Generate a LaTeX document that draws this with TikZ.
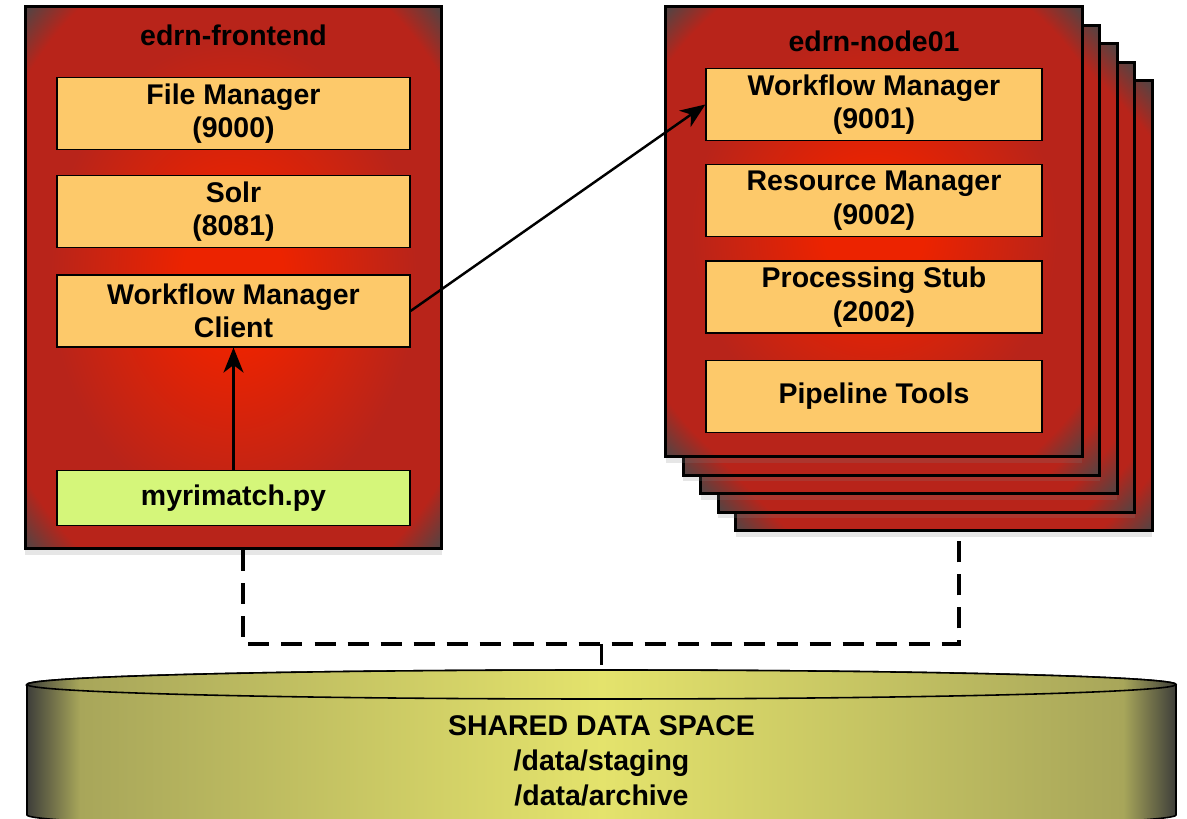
\documentclass[tikz,border=0pt]{standalone}
\usepackage{fontspec}
\setmainfont{Liberation Sans}
\usetikzlibrary{positioning, arrows.meta, shadows}

\definecolor{hotred}{HTML}{EC2300}
\definecolor{hostred}{HTML}{B8241A}
\definecolor{hostcorner}{HTML}{4C4646}
\definecolor{servfill}{HTML}{FDC96A}
\definecolor{scriptfill}{HTML}{D5F67A}
\definecolor{diskdark}{HTML}{3E3E3A}
\definecolor{diskolive}{HTML}{A8A65A}
\definecolor{disklight}{HTML}{E4E36C}

% glowing host boxes and the shared disk
\pgfdeclareradialshading{hostshade}{\pgfpoint{0bp}{0bp}}{color(0bp)=(hotred); color(6bp)=(hotred); color(22bp)=(hostred); color(31bp)=(hostred); color(35.4bp)=(hostcorner); color(50bp)=(hostcorner)}
\pgfdeclarehorizontalshading{diskshade}{100bp}{color(0bp)=(diskdark); color(25bp)=(diskdark); color(27.3bp)=(diskolive); color(50bp)=(disklight); color(72.7bp)=(diskolive); color(75bp)=(diskdark); color(100bp)=(diskdark)}

\tikzset{
  >={Stealth[length=5mm,width=4mm,inset=1.5mm]},
  host/.style={draw, line width=1.7pt, shade, shading=hostshade, minimum width=8.33cm,
    drop shadow={opacity=0.2, shadow xshift=0pt, shadow yshift=-0.12cm}},
  hosttitle/.style={font=\bfseries\fontsize{16.2}{19}\selectfont},
  service/.style={draw, line width=0.7pt, fill=servfill, minimum height=1.44cm,
    inner sep=2pt, align=center, font=\bfseries\fontsize{16.2}{19}\selectfont},
  call/.style={->, line width=1.4pt},
  sharelink/.style={line width=2pt, dash pattern=on 0.42cm off 0.24cm},
  disk/.style={draw, line width=0.9pt, shade, shading=diskshade}
}

\begin{document}
\begin{tikzpicture}
\useasboundingbox (0,0) rectangle (23.74,16.38);

% shared storage
\path[disk] (0.54,2.69) -- (0.54,0.08)
  arc[start angle=180, end angle=360, x radius=11.49cm, y radius=0.29cm]
  -- (23.52,2.69)
  arc[start angle=0, end angle=180, x radius=11.49cm, y radius=0.29cm] -- cycle;
\path[disk] (12.03,2.69) ellipse [x radius=11.49cm, y radius=0.29cm];
\node[hosttitle, align=center, font=\bfseries\fontsize{16.2}{20}\selectfont] (share) at (12.03,1.16)
  {SHARED DATA SPACE\\/data/staging\\/data/archive};
\coordinate (disktop) at (12.03,2.98);

% frontend host
\node[host, minimum height=10.84cm] (front) at (4.67,10.82) {};
\node[hosttitle] (fronttitle) at ([yshift=-0.6cm]front.north) {edrn-frontend};
\node[service, minimum width=7.06cm] (fm) at ([yshift=-2.16cm]front.north) {File Manager\\(9000)};
\node[service, minimum width=7.06cm, below=0.5cm of fm] (solr) {Solr\\(8081)};
\node[service, minimum width=7.06cm, below=0.52cm of solr] (wmc) {Workflow Manager\\Client};
\node[service, minimum width=7.06cm, minimum height=1.1cm, fill=scriptfill, below=2.44cm of wmc] (myri) {myrimatch.py};

% compute nodes, back of the stack first
\foreach \i in {4,3,2,1}
  \node[host, minimum height=9cm] (back\i) at ({17.48+0.35*\i},{11.74-0.37*\i}) {};
\node[host, minimum height=9cm] (node01) at (17.48,11.74) {};
\node[hosttitle] (nodetitle) at ([yshift=-0.72cm]node01.north) {edrn-node01};
\node[service, minimum width=6.72cm] (wm) at ([yshift=-1.98cm]node01.north) {Workflow Manager\\(9001)};
\node[service, minimum width=6.72cm, below=0.46cm of wm] (rm) {Resource Manager\\(9002)};
\node[service, minimum width=6.72cm, below=0.46cm of rm] (ps) {Processing Stub\\(2002)};
\node[service, minimum width=6.72cm, below=0.52cm of ps] (pt) {Pipeline Tools};

% job submission
\draw[call] (myri) -- (wmc);
\draw[call] (wmc.east) -- (wm.west);

% mounts of the shared space
\coordinate (junction) at (12.03,3.5);
\draw[sharelink] ([xshift=0.19cm]front.south) |- (junction) -| ([xshift=0.3cm]back4.south);
\draw[sharelink] (junction) -- (disktop);
\end{tikzpicture}
\end{document}
